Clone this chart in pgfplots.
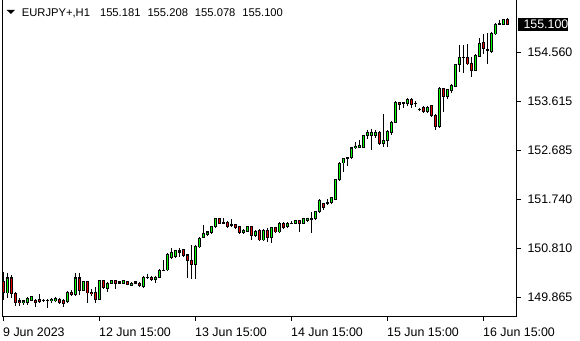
\documentclass[border=0pt]{standalone}
\usepackage{pgfplots}
\pgfplotsset{compat=1.18}
\usepackage{pgfplotstable}
\usepackage{fontspec}
\setmainfont{Liberation Sans}
\definecolor{bull}{RGB}{0,255,0}
\definecolor{bear}{RGB}{230,0,0}
\pgfplotstableread{
i o h l c
0 150.166 150.357 149.821 149.974
1 149.955 150.338 149.859 150.242
2 150.242 150.299 149.859 149.936
3 149.936 149.974 149.706 149.764
4 149.802 149.859 149.706 149.764
5 149.764 149.821 149.725 149.802
6 149.764 149.879 149.725 149.859
7 149.821 149.898 149.802 149.879
8 149.821 149.840 149.687 149.764
9 149.840 149.936 149.764 149.783
10 149.821 149.840 149.783 149.802
11 149.802 149.840 149.668 149.821
12 149.802 149.859 149.764 149.840
13 149.802 149.879 149.783 149.859
14 149.840 149.859 149.745 149.764
15 149.821 149.840 149.687 149.745
16 149.783 149.993 149.764 149.974
17 149.974 150.012 149.898 149.917
18 149.917 150.338 149.898 150.242
19 150.242 150.338 149.917 150.012
20 150.012 150.185 149.993 150.166
21 150.166 150.185 149.764 149.955
22 149.974 150.032 149.898 149.936
23 149.974 150.070 149.764 149.840
24 149.840 150.204 149.821 150.185
25 150.185 150.204 150.032 150.051
26 150.032 150.166 149.974 150.146
27 150.146 150.204 150.127 150.185
28 150.185 150.204 150.032 150.146
29 150.146 150.185 150.127 150.166
30 150.146 150.204 150.127 150.185
31 150.166 150.185 150.108 150.127
32 150.108 150.166 150.089 150.146
33 150.146 150.185 150.127 150.166
34 150.146 150.166 150.070 150.089
35 150.070 150.280 150.051 150.261
36 150.242 150.319 150.223 150.261
37 150.261 150.280 150.185 150.204
38 150.204 150.280 150.146 150.261
39 150.261 150.414 150.242 150.395
40 150.395 150.586 150.376 150.395
41 150.395 150.720 150.376 150.701
42 150.625 150.816 150.606 150.739
43 150.644 150.778 150.625 150.759
44 150.739 150.816 150.644 150.759
45 150.778 150.797 150.644 150.663
46 150.682 150.701 150.242 150.586
47 150.586 150.873 150.223 150.491
48 150.491 150.873 150.223 150.854
49 150.835 151.026 150.816 151.007
50 151.026 151.256 151.007 151.084
51 151.065 151.141 151.046 151.122
52 151.103 151.237 151.084 151.218
53 151.218 151.390 151.199 151.371
54 151.371 151.390 151.275 151.294
55 151.313 151.390 151.275 151.294
56 151.313 151.333 151.199 151.218
57 151.237 151.371 151.218 151.256
58 151.256 151.275 151.179 151.199
59 151.218 151.237 151.084 151.103
60 151.103 151.179 151.084 151.160
61 151.141 151.237 151.122 151.218
62 151.218 151.237 150.969 151.046
63 151.046 151.160 151.026 151.141
64 151.160 151.179 150.950 150.969
65 150.969 151.179 150.950 151.160
66 151.160 151.199 150.931 151.026
67 151.026 151.218 150.912 151.199
68 151.199 151.218 151.103 151.122
69 151.122 151.313 151.103 151.294
70 151.294 151.313 151.179 151.199
71 151.218 151.313 151.199 151.294
72 151.294 151.333 151.275 151.294
73 151.294 151.352 151.275 151.333
74 151.333 151.352 151.122 151.294
75 151.294 151.390 151.275 151.371
76 151.333 151.390 151.313 151.371
77 151.371 151.505 151.103 151.352
78 151.371 151.524 151.352 151.505
79 151.505 151.753 151.486 151.734
80 151.658 151.677 151.543 151.600
81 151.658 151.753 151.639 151.677
82 151.677 151.792 151.658 151.773
83 151.753 152.136 151.734 152.117
84 152.117 152.461 152.098 152.442
85 152.442 152.538 152.270 152.519
86 152.519 152.557 152.385 152.538
87 152.538 152.748 152.519 152.729
88 152.729 152.844 152.710 152.767
89 152.748 152.882 152.729 152.786
90 152.748 152.978 152.729 152.959
91 152.959 153.073 152.901 153.035
92 152.959 153.093 152.691 153.035
93 152.959 153.073 152.920 153.035
94 153.035 153.054 152.786 152.806
95 152.806 153.380 152.748 152.863
96 152.863 153.073 152.748 153.054
97 153.035 153.246 152.978 153.226
98 153.226 153.628 153.207 153.590
99 153.590 153.609 153.456 153.552
100 153.571 153.609 153.494 153.590
101 153.571 153.686 153.533 153.666
102 153.666 153.686 153.494 153.552
103 153.571 153.628 153.513 153.571
104 153.475 153.494 153.437 153.456
105 153.513 153.533 153.399 153.418
106 153.418 153.533 153.399 153.513
107 153.533 153.552 153.322 153.360
108 153.360 153.380 153.073 153.131
109 153.131 153.896 153.112 153.858
110 153.858 153.877 153.418 153.705
111 153.705 153.858 153.666 153.839
112 153.820 153.953 153.781 153.934
113 153.915 154.336 153.896 154.317
114 154.317 154.700 154.183 154.451
115 154.451 154.700 154.164 154.451
116 154.451 154.719 154.317 154.336
117 154.355 154.470 154.087 154.221
118 154.221 154.527 154.202 154.508
119 154.489 154.833 154.470 154.719
120 154.738 154.910 154.527 154.642
121 154.604 154.929 154.336 154.585
122 154.566 154.948 154.547 154.929
123 154.910 155.120 154.891 155.101
124 155.101 155.178 155.082 155.120
125 155.101 155.197 155.082 155.178
126 155.181 155.208 155.078 155.100
}\candles
\begin{document}
\begin{tikzpicture}
\useasboundingbox (0,0) rectangle (580pt,340pt);
\fill[white] (0,0) rectangle (580pt,340pt);
\begin{axis}[
  at={(2.5pt,23.5pt)}, anchor=south west,
  scale only axis, width=514pt, height=316.5pt,
  xmin=-0.25, xmax=128.25,
  ymin=149.5054, ymax=155.5604,
  axis line style={draw=none},
  tick align=outside, major tick length=4pt,
  tick style={black, line width=1pt},
  xtick pos=bottom, ytick pos=right,
  xtick={0,24,48,72,96,120},
  xticklabels={9 Jun 2023,12 Jun 15:00,13 Jun 15:00,14 Jun 15:00,15 Jun 15:00,16 Jun 15:00},
  ytick={149.865,150.810,151.740,152.685,153.615,154.560},
  yticklabels={149.865,150.810,151.740,152.685,153.615,154.560},
  /pgf/number format/assume math mode=true,
  ticklabel style={font=\fontsize{12.4pt}{14pt}\selectfont, inner sep=0pt, text=black},
  xticklabel style={anchor=north west, xshift=-0.5pt},
  yticklabel style={anchor=west},
  xticklabel shift=6.8pt,
  yticklabel shift=6.8pt,
  extra description/.code={\draw[black, line width=1pt] (0,1) -- (0,0) -- (1,0) -- (1,1);},
]
% wicks
\addplot[draw=none, mark=none, forget plot,
  error bars/.cd, y dir=minus, y explicit, error mark=none,
  error bar style={draw=black, line width=1pt}]
  table[x=i, y=h, y error expr={\thisrow{h}-\thisrow{l}}] {\candles};
% body outlines
\addplot[draw=none, mark=none, forget plot,
  error bars/.cd, y dir=minus, y explicit, error mark=none,
  error bar style={draw=black, line width=3pt}]
  table[x=i, y expr={max(\thisrow{o},\thisrow{c})+0.0096},
        y error expr={abs(\thisrow{o}-\thisrow{c})+0.0191}] {\candles};
% bull fills
\addplot[draw=none, mark=none, forget plot,
  error bars/.cd, y dir=minus, y explicit, error mark=none,
  error bar style={draw=bull, line width=1pt}]
  table[x=i, y expr={\thisrow{c}-0.0096},
        y error expr={\thisrow{c}-\thisrow{o}>0.025 ? \thisrow{c}-\thisrow{o}-0.0191 : 0}] {\candles};
% bear fills
\addplot[draw=none, mark=none, forget plot,
  error bars/.cd, y dir=minus, y explicit, error mark=none,
  error bar style={draw=bear, line width=1pt}]
  table[x=i, y expr={\thisrow{o}-0.0096},
        y error expr={\thisrow{o}-\thisrow{c}>0.025 ? \thisrow{o}-\thisrow{c}-0.0191 : 0}] {\candles};
\end{axis}
% header
\fill[black] (6.7pt,330pt) -- (15pt,330pt) -- (10.85pt,326pt) -- cycle;
\node[anchor=base west, inner sep=0pt, font=\fontsize{11.2pt}{13pt}\selectfont]
  at (21.7pt,323.3pt) {EURJPY+,H1\hspace{10pt}155.181\hspace{7pt}155.208\hspace{7pt}155.078\hspace{7pt}155.100};
% current price label
\fill[black] (517.7pt,309.3pt) rectangle (568.3pt,321.7pt);
\node[anchor=west, inner sep=0pt, text=white, font=\fontsize{12.4pt}{14pt}\selectfont]
  at (523.3pt,315.6pt) {155.100};
\end{tikzpicture}
\end{document}
